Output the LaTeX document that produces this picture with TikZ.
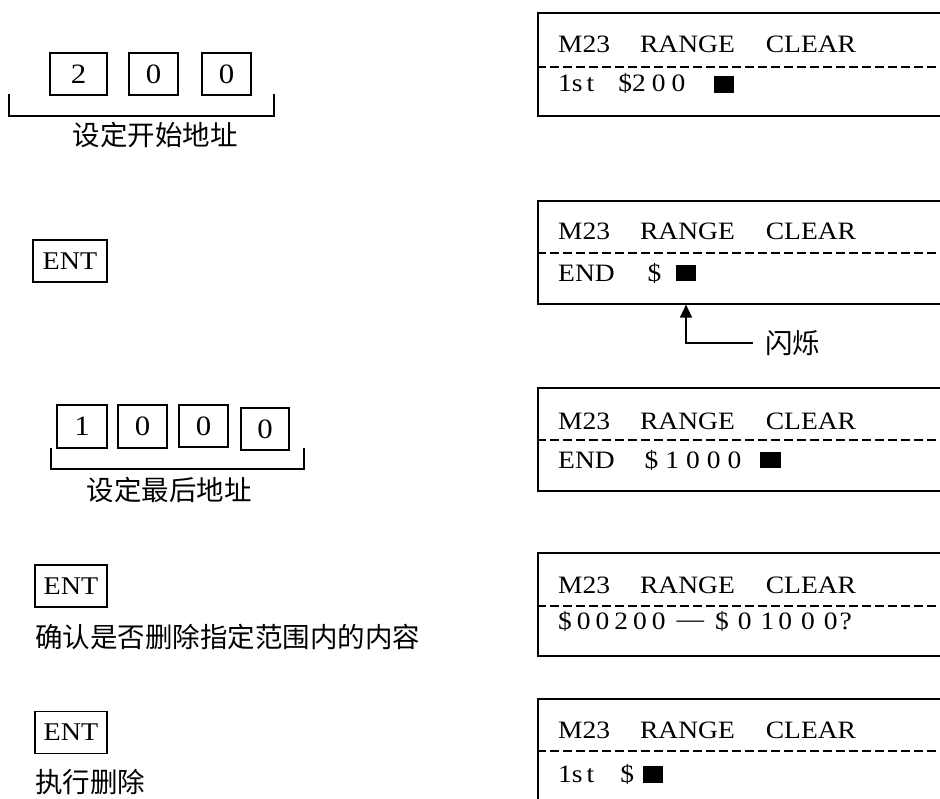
\documentclass[tikz,border=0pt]{standalone}
\usepackage{fontspec}
\setmainfont{Liberation Serif}[FakeStretch=1.1]
\newfontfamily\cjk{Noto Sans CJK SC}
\usetikzlibrary{arrows.meta}
\newcommand\gp[1]{\hspace{#1pt}}
\newcommand\hdrtext{M23\gp{30}RANGE\gp{31}CLEAR}
\begin{document}
\begin{tikzpicture}[x=1pt,y=1pt,
  txt/.style={inner sep=0pt, anchor=base west, font=\fontsize{25}{30}\selectfont},
  cjktxt/.style={inner sep=0pt, font=\cjk\fontsize{27.5}{32}\selectfont},
  key/.style={draw, line width=1.4pt, inner sep=0pt, minimum height=42pt, font=\fontsize{28}{32}\selectfont},
  entkey/.style={key, font=\fontsize{25.5}{30}\selectfont},
  screen/.style={draw, line width=1.6pt, anchor=north west, minimum width=430pt, minimum height=103pt, inner sep=0pt},
  sep/.style={line width=1.5pt, dash pattern=on 9pt off 4pt},
  cursor/.style={fill=black, inner sep=0pt, minimum width=20.5pt, minimum height=16.5pt},
  bracket/.style={line width=1.5pt}]

\useasboundingbox (0,0) rectangle (940,-799);
\clip (0,0) rectangle (940,-799);

% ---- left column ----
\node[key, minimum width=57pt] (k1) at (78.5,-74) {2};
\node[key, minimum width=49pt] (k2) at (153.5,-74) {0};
\node[key, minimum width=49pt] (k3) at (226.5,-74) {0};
\draw[bracket] (9,-94) -- (9,-116) -- (274,-116) -- (274,-94);
\node[cjktxt] (lab1) at (155,-135) {设定开始地址};

\node[entkey, minimum width=74pt] (ent1) at (70,-261) {ENT};

\node[key, minimum width=50pt, minimum height=43pt] (m1) at (82,-426.5) {1};
\node[key, minimum width=49pt, minimum height=43pt] (m2) at (142.5,-426.5) {0};
\node[key, minimum width=49pt, minimum height=42pt] (m3) at (203.5,-426) {0};
\node[key, minimum width=48pt, minimum height=42pt] (m4) at (265,-429) {0};
\draw[bracket] (51,-448) -- (51,-469) -- (304,-469) -- (304,-448);
\node[cjktxt] (lab2) at (169,-490) {设定最后地址};

\node[entkey, minimum width=72pt] (ent2) at (71,-586) {ENT};
\node[cjktxt, anchor=west] (conf) at (35,-636.5) {确认是否删除指定范围内的内容};

\node[entkey, minimum width=72pt] (ent3) at (71,-732.5) {ENT};
\node[cjktxt, anchor=west] (exec) at (35,-781.5) {执行删除};

% ---- screens ----
\node[screen] (s1) at (537,-12) {};
\node[txt] (h1) at (558,-53) {\hdrtext};
\draw[sep] ([yshift=-55pt]s1.north west) -- ([yshift=-55pt]s1.north east);
\node[txt] (r1) at (558,-92) {1s\gp{4}t\gp{24}\$2\gp{6}0\gp{6}0};
\node[cursor] (c1) at (724,-84.5) {};

\node[screen] (s2) at (537,-200) {};
\node[txt] (h2) at (558,-240) {\hdrtext};
\draw[sep] ([yshift=-53pt]s2.north west) -- ([yshift=-53pt]s2.north east);
\node[txt] (r2) at (558,-282) {END\gp{33}\$};
\node[cursor] (c2) at (686,-273) {};

\node[cjktxt, anchor=west] (blink) at (765,-343) {闪烁};
\draw[line width=1.4pt, -{Triangle[width=12pt,length=13pt]}] ([xshift=-12pt]blink.west) -| (c2 |- s2.south);

\node[screen] (s3) at (537,-387) {};
\node[txt] (h3) at (558,-430) {\hdrtext};
\draw[sep] ([yshift=-53pt]s3.north west) -- ([yshift=-53pt]s3.north east);
\node[txt] (r3) at (558,-468) {END\gp{30}\$\gp{7}1\gp{7}0\gp{7}0\gp{7}0};
\node[cursor] (c3) at (770.5,-460) {};

\node[screen] (s4) at (537,-552) {};
\node[txt] (h4) at (558,-593) {\hdrtext};
\draw[sep] ([yshift=-54pt]s4.north west) -- ([yshift=-54pt]s4.north east);
\node[txt] (r4) at (558,-629) {\$\gp{5}0\gp{5}0\gp{5}2\gp{5}0\gp{5}0\gp{11}\raisebox{2pt}{—}\gp{11}\$\gp{9}0\gp{9}1\gp{4}0\gp{9}0\gp{9}0\gp{2}?};

\node[screen] (s5) at (537,-698) {};
\node[txt] (h5) at (558,-738) {\hdrtext};
\draw[sep] ([yshift=-53pt]s5.north west) -- ([yshift=-53pt]s5.north east);
\node[txt] (r5) at (558,-782) {1s\gp{4}t\gp{26}\$};
\node[cursor] (c5) at (653,-774.5) {};
\end{tikzpicture}
\end{document}
